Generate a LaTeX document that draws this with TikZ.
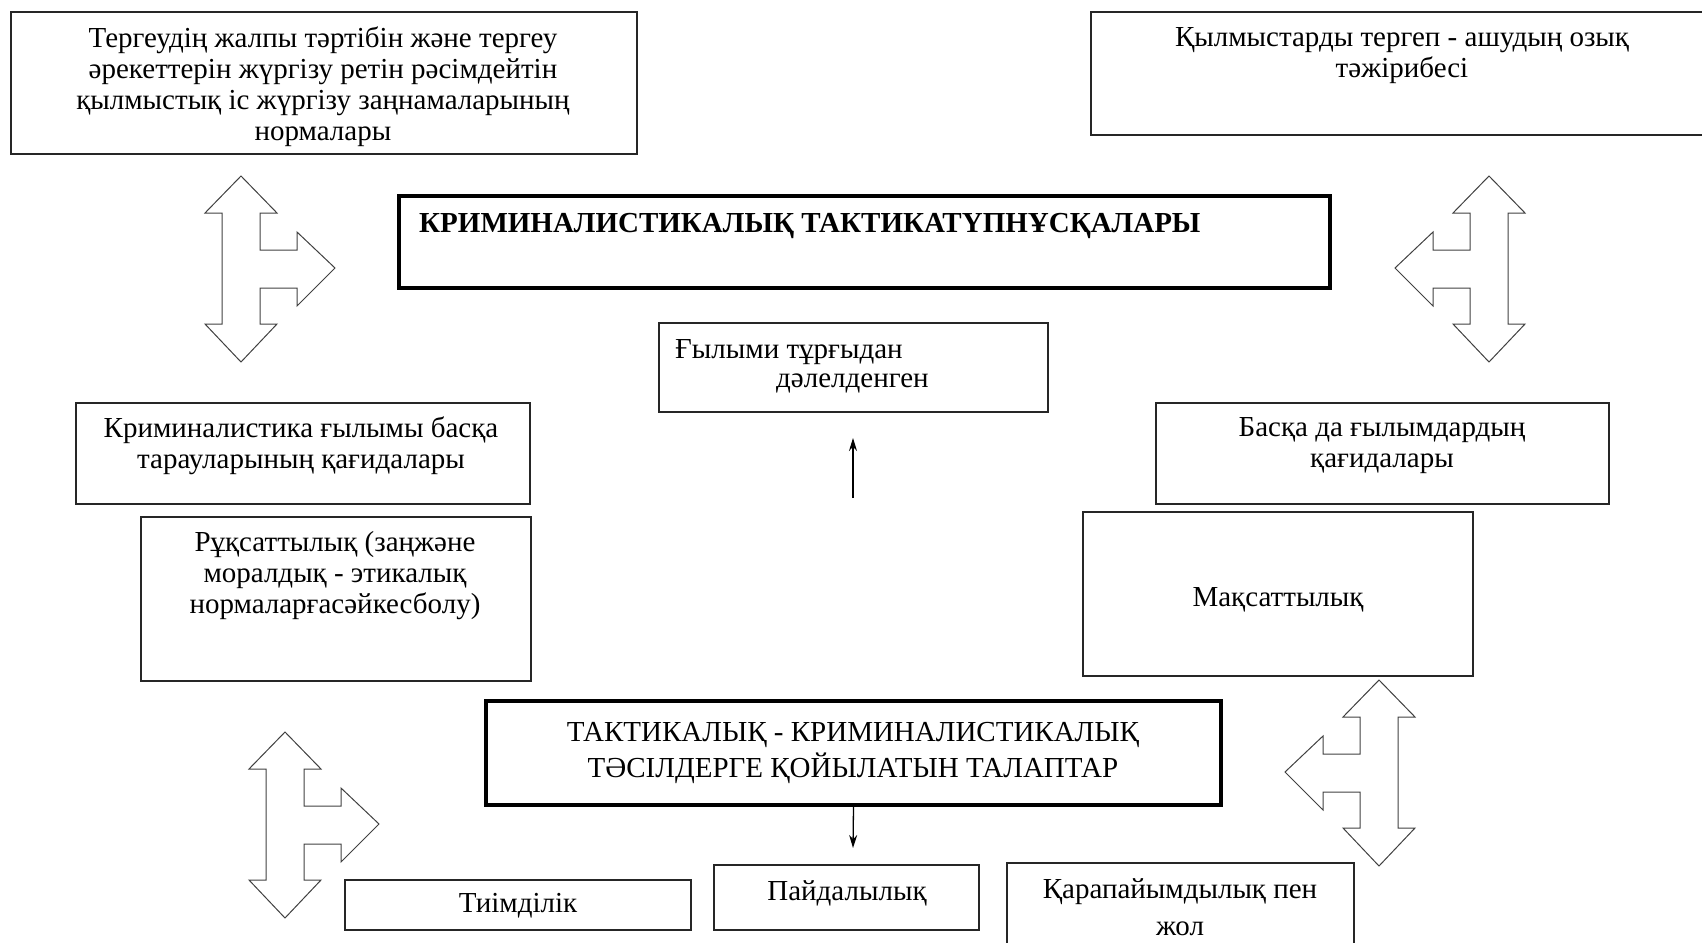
\documentclass[tikz,border=0pt]{standalone}
\usepackage{fontspec}
\setmainfont{Liberation Serif}
\usetikzlibrary{arrows.meta}
\begin{document}
\begin{tikzpicture}[x=1pt,y=-1pt,
  box/.style={draw=black!85, line width=1.3pt, rectangle, inner sep=0pt},
  thickbox/.style={draw=black, line width=3.6pt, rectangle, inner sep=0pt},
  txt/.style={inner sep=0pt, align=center, font=\fontsize{29}{31}\selectfont},
  blockarrow/.style={draw=black!75, line width=1pt, line join=miter},
  conn/.style={line width=1.3pt, -{Stealth[length=13pt,width=8pt]}},
  pics/dblarrow/.style={code={
    \draw[blockarrow] (0,0) -- (36,37) -- (19,37) -- (19,74) -- (56,74) -- (56,56)
      -- (94,92) -- (56,130) -- (56,112) -- (19,112) -- (19,148) -- (36,148)
      -- (0,186) -- (-36,148) -- (-19,148) -- (-19,37) -- (-36,37) -- cycle;}}]
\useasboundingbox (0,0) rectangle (1702,942);

% boxes
\node[box, minimum width=626pt, minimum height=142pt] (b1) at (324,83) {};
\node[box, minimum width=616pt, minimum height=123pt] (b2) at (1399,73.5) {};
\node[thickbox, minimum width=931pt, minimum height=92pt] (title) at (864.5,242) {};
\node[box, minimum width=389pt, minimum height=89pt] (g) at (853.5,367.5) {};
\node[box, minimum width=454pt, minimum height=101pt] (k) at (303,453.5) {};
\node[box, minimum width=453pt, minimum height=101pt] (bs) at (1382.5,453.5) {};
\node[box, minimum width=390pt, minimum height=164pt] (r) at (336,599) {};
\node[box, minimum width=390pt, minimum height=164pt] (m) at (1278,594) {};
\node[thickbox, minimum width=735pt, minimum height=104pt] (t) at (853.5,753) {};
\node[box, minimum width=346pt, minimum height=50pt] (ti) at (518,905) {};
\node[box, minimum width=265pt, minimum height=65pt] (p) at (846.5,897.5) {};
\node[box, minimum width=347pt, minimum height=90pt] (q) at (1180.5,908) {};

% texts
\node[txt] (b1t) at (323,87) {Тергеудің жалпы тәртібін және тергеу\\әрекеттерін жүргізу ретін рәсімдейтін\\қылмыстық іс жүргізу заңнамаларының\\нормалары};
\node[txt] (b2t) at (1402,56) {Қылмыстарды тергеп - ашудың озық\\тәжірибесі};
\node[txt, anchor=west, font=\fontsize{29}{31}\selectfont\bfseries] (titlet) at (419,226) {КРИМИНАЛИСТИКАЛЫҚ ТАКТИКАТҮПНҰСҚАЛАРЫ};
\node[txt, anchor=west] (g1) at (675,352) {Ғылыми тұрғыдан};
\node[txt, anchor=west] (g2) at (776,383) {дәлелденген};
\node[txt] (kt) at (301,446) {Криминалистика ғылымы басқа\\тарауларының қағидалары};
\node[txt] (bst) at (1382,446) {Басқа да ғылымдардың\\қағидалары};
\node[txt] (rt) at (335,576) {Рұқсаттылық (заңжәне\\моралдық - этикалық\\нормаларғасәйкесболу)};
\node[txt] (mt) at (1278,600) {Мақсаттылық};
\node[txt, font=\fontsize{29}{36}\selectfont] (tt) at (853,753) {ТАКТИКАЛЫҚ - КРИМИНАЛИСТИКАЛЫҚ\\ТӘСІЛДЕРГЕ ҚОЙЫЛАТЫН ТАЛАПТАР};
\node[txt] (tit) at (518,906) {Тиімділік};
\node[txt] (pt) at (847,893) {Пайдалылық};
\node[txt, font=\fontsize{29}{37}\selectfont] (qt) at (1180,907) {Қарапайымдылық пен\\жол};

% block arrows
\pic at (241,176) {dblarrow};
\pic[xscale=-1] at (1489,176) {dblarrow};
\pic at (285,732) {dblarrow};
\pic[xscale=-1] at (1379,680) {dblarrow};

% connectors
\coordinate (upS) at (853,498);
\coordinate (upE) at (853,438);
\draw[conn] (upS) -- (upE);
\coordinate (dnE) at (853,848);
\draw[conn] (t.south) -- (dnE);
\end{tikzpicture}
\end{document}
